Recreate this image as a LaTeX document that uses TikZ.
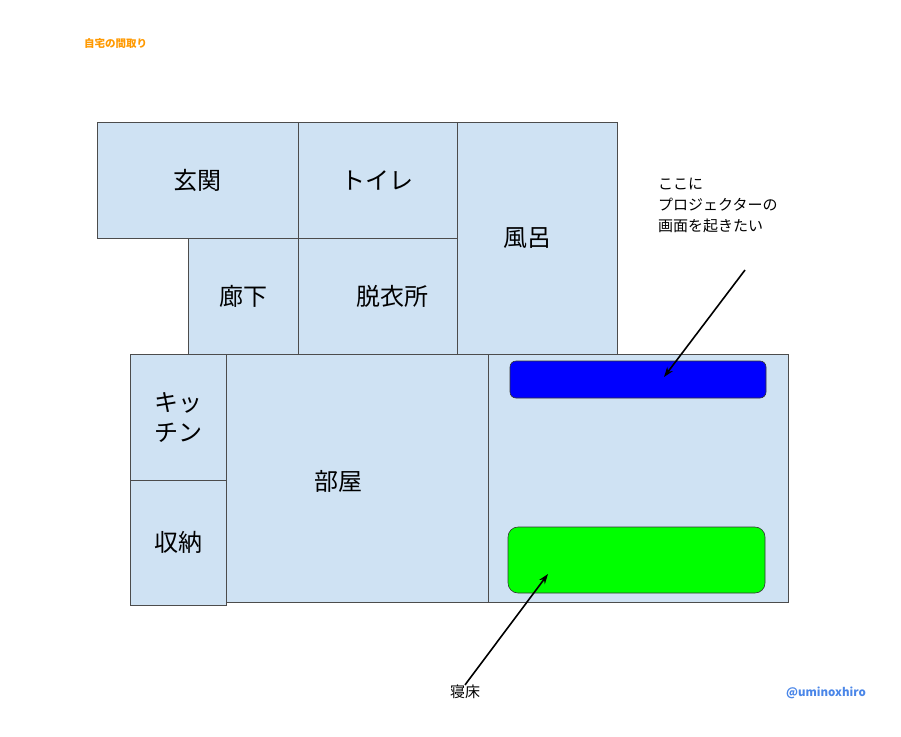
\documentclass[tikz,border=0pt]{standalone}
\usepackage{fontspec}
\setmainfont{Noto Sans CJK JP}
\usetikzlibrary{arrows.meta,positioning}

\tikzset{
  room/.style={draw=black!70, fill=roomblue, line width=0.6pt, inner sep=0pt, font=\fontsize{24}{30}\selectfont, align=center},
  bed/.style={draw=black!80, line width=0.6pt, rounded corners=6pt, inner sep=0pt},
  note/.style={font=\fontsize{15}{21}\selectfont, align=left, inner sep=0pt},
  pointer/.style={-{Stealth[length=10pt,width=7pt]}, line width=1.6pt}
}
\definecolor{roomblue}{HTML}{CFE2F3}
\definecolor{titleorange}{HTML}{FF9900}
\definecolor{handleblue}{HTML}{4A86E8}

\begin{document}
\begin{tikzpicture}[x=1pt,y=-1pt]
\useasboundingbox (0,0) rectangle (901,736);

% rooms
\node[room, minimum width=201pt, minimum height=116pt] (genkan) at (197.5,180) {玄関};
\node[room, minimum width=159pt, minimum height=116pt] (toire) at (377.5,180) {トイレ};
\node[room, minimum width=160pt, minimum height=232pt] (furo) at (537,238) {};
\node[font=\fontsize{24}{30}\selectfont] (furolabel) at (527,238) {風呂};
\node[room, minimum width=110pt, minimum height=116pt] (rouka) at (243,296) {廊下};
\node[room, minimum width=159pt, minimum height=116pt] (datsui) at (377.5,296) {};
\node[font=\fontsize{24}{30}\selectfont] (datsuilabel) at (392,296) {脱衣所};
\node[room, minimum width=262pt, minimum height=248pt] (heya) at (357,478) {};
\node[font=\fontsize{24}{30}\selectfont] (heyalabel) at (338,481) {部屋};
\node[room, minimum width=300pt, minimum height=248pt] (shinshitsu) at (638,478) {};
\node[room, minimum width=96pt, minimum height=126pt] (kitchen) at (178,417) {キッ\\チン};
\node[room, minimum width=96pt, minimum height=125pt] (shuno) at (178,542.5) {収納};

% screen and bed
\node[bed, fill=blue, minimum width=256pt, minimum height=37pt] (screen) at (638,379.5) {};
\node[bed, fill=green, minimum width=257pt, minimum height=66pt, rounded corners=10pt] (shindoko) at (636.5,560) {};

% notes
\node[note, anchor=north west] (screennote) at (658,178) {ここに\\プロジェクターの\\画面を起きたい};
\node[note] (bednote) at (465,692) {寝床};
\coordinate (screentip) at (664,377);
\coordinate (bedtip) at (548,574);
\draw[pointer] (745,270) -- (screentip);
\draw[pointer] (bednote.north) -- (bedtip);

% title and handle
\node[font=\bfseries\fontsize{10.5}{12}\selectfont, text=titleorange, anchor=west, inner sep=0pt] (title) at (84,44) {自宅の間取り};
\node[font=\bfseries\fontsize{11.5}{14}\selectfont, text=handleblue, inner sep=0pt] (handle) at (826,693) {@uminoxhiro};
\end{tikzpicture}
\end{document}
